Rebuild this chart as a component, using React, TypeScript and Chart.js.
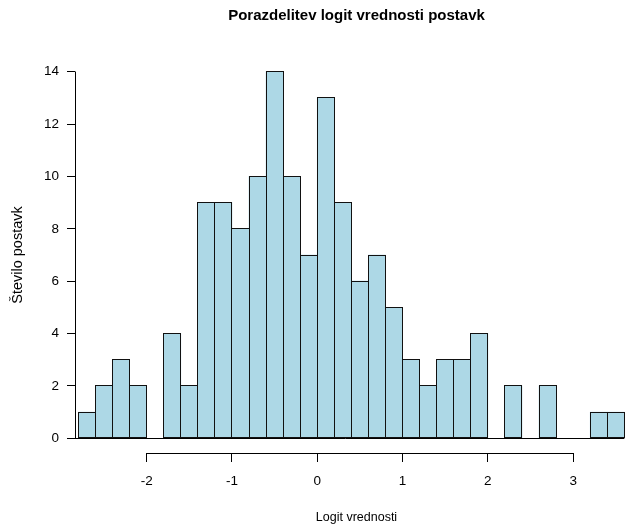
import React, { useEffect, useRef } from 'react';
import { Chart, registerables } from 'chart.js';

Chart.register(...registerables);

const TITLE = 'Porazdelitev logit vrednosti postavk';
const X_TITLE = 'Logit vrednosti';
const Y_TITLE = 'Število postavk';

const BIN_WIDTH = 0.2;
const binLefts = [
  -2.8, -2.6, -2.4, -2.2, -2.0, -1.8, -1.6, -1.4, -1.2, -1.0, -0.8, -0.6, -0.4, -0.2,
  0.0, 0.2, 0.4, 0.6, 0.8, 1.0, 1.2, 1.4, 1.6, 1.8, 2.0, 2.2, 2.4, 2.6, 2.8, 3.0, 3.2, 3.4,
];
const counts = [
  1, 2, 3, 2, 0, 4, 2, 9, 9, 8, 10, 14, 10, 7,
  13, 9, 6, 7, 5, 3, 2, 3, 3, 4, 0, 2, 0, 2, 0, 0, 1, 1,
];
const xTicks = [-2, -1, 0, 1, 2, 3];
const yTicks = [0, 2, 4, 6, 8, 10, 12, 14];

const X_MIN = -2.84;
const X_MAX = 3.76;
const Y_MIN = -0.56;
const Y_MAX = 14.56;

const FONT = '"Liberation Sans", Arial, Helvetica, sans-serif';
const TICK_LEN = 8;
const BAR_FILL = '#ADD8E6';
const BAR_LINE = '#111';

const align = (v: number) => Math.round(v - 0.5) + 0.5;

const rStylePlugin = {
  id: 'rStyle',
  afterDatasetsDraw(chart: any) {
    const { ctx } = chart;
    const meta = chart.getDatasetMeta(0);
    ctx.save();
    ctx.strokeStyle = BAR_LINE;
    ctx.lineWidth = 1;
    meta.data.forEach((el: any, i: number) => {
      if (!(counts[i] > 0)) return;
      const p = el.getProps(['x', 'y', 'base', 'width'], true);
      const l = align(p.x - p.width / 2);
      const r = align(p.x + p.width / 2);
      const t = align(p.y);
      const b = align(p.base);
      ctx.strokeRect(l, t, r - l, b - t);
    });
    ctx.restore();
  },
  afterDraw(chart: any) {
    const { ctx, chartArea, scales } = chart;
    const x = scales.x;
    const y = scales.y;
    ctx.save();
    ctx.strokeStyle = '#000';
    ctx.lineWidth = 1;
    const yb = align(chartArea.bottom);
    ctx.beginPath();
    ctx.moveTo(align(x.getPixelForValue(xTicks[0])), yb);
    ctx.lineTo(align(x.getPixelForValue(xTicks[xTicks.length - 1])), yb);
    ctx.stroke();
    const xl = align(chartArea.left);
    ctx.beginPath();
    ctx.moveTo(xl, align(y.getPixelForValue(yTicks[0])));
    ctx.lineTo(xl, align(y.getPixelForValue(yTicks[yTicks.length - 1])));
    ctx.stroke();
    const y0 = align(y.getPixelForValue(0));
    ctx.beginPath();
    ctx.moveTo(chartArea.left - TICK_LEN, y0);
    ctx.lineTo(x.getPixelForValue(binLefts[binLefts.length - 1] + BIN_WIDTH), y0);
    ctx.stroke();

    ctx.fillStyle = '#000';
    const cx = (chartArea.left + chartArea.right) / 2;
    const cy = (chartArea.top + chartArea.bottom) / 2;
    ctx.textAlign = 'center';
    ctx.textBaseline = 'middle';
    ctx.font = `bold 15px ${FONT}`;
    ctx.fillText(TITLE, cx, chartArea.top - 41);
    ctx.font = `12.5px ${FONT}`;
    ctx.fillText(X_TITLE, cx, chartArea.bottom + 65);
    ctx.save();
    ctx.font = `14.5px ${FONT}`;
    ctx.translate(chartArea.left - 57, cy);
    ctx.rotate(-Math.PI / 2);
    ctx.fillText(Y_TITLE, 0, 0);
    ctx.restore();
    ctx.restore();
  },
};

export default function App() {
  const canvasRef = useRef<HTMLCanvasElement | null>(null);

  useEffect(() => {
    if (!canvasRef.current) return;
    const data = binLefts.map((left, i) => ({
      x: left + BIN_WIDTH / 2,
      y: counts[i] > 0 ? counts[i] : null,
    }));
    const chart = new Chart(canvasRef.current, {
      type: 'bar',
      data: {
        datasets: [
          {
            data: data as any,
            backgroundColor: BAR_FILL,
            borderWidth: 0,
            barPercentage: 1,
            categoryPercentage: 1,
          } as any,
        ],
      },
      options: {
        animation: false,
        responsive: true,
        maintainAspectRatio: false,
        layout: { padding: { top: 57, right: 7, left: 0, bottom: 0 } },
        plugins: {
          legend: { display: false },
          title: { display: false },
          tooltip: { enabled: false },
        },
        scales: {
          x: {
            type: 'linear',
            offset: false,
            min: X_MIN,
            max: X_MAX,
            afterBuildTicks: (s: any) => {
              s.ticks = xTicks.map((v) => ({ value: v }));
            },
            afterFit: (s: any) => {
              s.height = 75;
            },
            grid: {
              offset: false,
              drawOnChartArea: false,
              drawTicks: true,
              tickLength: 9,
              color: '#000',
              lineWidth: 1,
            },
            border: { display: false },
            ticks: {
              color: '#000',
              font: { family: FONT, size: 13.5 },
              padding: 11,
              maxRotation: 0,
              autoSkip: false,
              callback: (v: any) => String(v),
            },
          },
          y: {
            type: 'linear',
            offset: false,
            min: Y_MIN,
            max: Y_MAX,
            afterBuildTicks: (s: any) => {
              s.ticks = yTicks.map((v) => ({ value: v }));
            },
            afterFit: (s: any) => {
              s.width = 75;
            },
            grid: {
              offset: false,
              drawOnChartArea: false,
              drawTicks: true,
              tickLength: TICK_LEN,
              color: '#000',
              lineWidth: 1,
            },
            border: { display: false },
            ticks: {
              color: '#000',
              font: { family: FONT, size: 13.5 },
              padding: 8,
              autoSkip: false,
              callback: (v: any) => String(v),
            },
          },
        },
      },
      plugins: [rStylePlugin],
    });
    return () => chart.destroy();
  }, []);

  return (
    <div
      style={{
        position: 'fixed',
        left: 0,
        top: 0,
        width: 630,
        height: 528,
        overflow: 'hidden',
        background: '#fff',
      }}
    >
      <div style={{ position: 'relative', width: 645, height: 528 }}>
        <canvas ref={canvasRef} />
      </div>
    </div>
  );
}
